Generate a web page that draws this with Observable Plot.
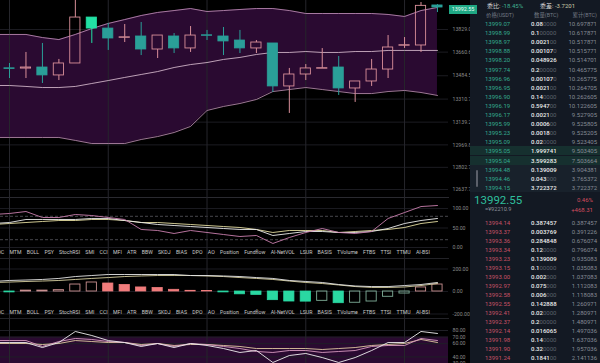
<!DOCTYPE html>
<html><head><meta charset="utf-8">
<script src="https://cdn.jsdelivr.net/npm/d3@7"></script>
<script src="https://cdn.jsdelivr.net/npm/@observablehq/plot@0.6"></script>
<style>
html,body{margin:0;padding:0;background:#000;}
body{width:600px;height:363px;overflow:hidden;position:relative;font-family:Roboto,"Noto Sans CJK SC",sans-serif;}
.pnl{position:absolute;left:0;width:470px;}
.pnl svg{display:block;}
.tabs{position:absolute;left:-6px;width:436px;height:8px;display:flex;justify-content:space-between;font-size:5.2px;line-height:8px;color:#c9c9c9;white-space:nowrap;}
#badge{position:absolute;left:449px;width:28px;height:9px;line-height:9px;background:#1fa884;color:#eafff6;font-size:5.4px;text-align:center;}
#book{position:absolute;left:470px;top:0;width:130px;height:363px;background:#131923;overflow:hidden;color:#ccc;font-size:6px;}
#book .row{position:absolute;left:0;width:130px;height:9px;line-height:9px;white-space:nowrap;}
#book .p{position:absolute;left:15px;}
#book .q{position:absolute;left:61px;color:#ececec;font-weight:500;}
#book .q i{font-style:normal;color:#5d626c;font-weight:400;}
#book .c{position:absolute;right:3px;color:#868b95;}
#asks{position:absolute;left:0;top:21px;width:130px;height:171px;overflow:hidden;}
#bids{position:absolute;left:0;top:218px;width:130px;height:145px;overflow:hidden;}
#handle{position:absolute;left:476px;top:170px;width:2px;height:17px;background:#5b606a;border-radius:1px;}
</style></head><body>
<div id="pA" class="pnl" style="top:0"></div>
<div id="pB" class="pnl" style="top:197px"></div>
<div id="pC" class="pnl" style="top:258px"></div>
<div id="pD" class="pnl" style="top:318px"></div>
<div class="tabs" id="tabs1" style="top:248px"></div>
<div class="tabs" id="tabs2" style="top:308px"></div>
<div id="book">
  <div class="row" style="top:1px"><span style="position:absolute;left:17px;color:#d6d6d6">委比: <span style="color:#3fae92">-18.45%</span></span><span style="position:absolute;left:70px;color:#d6d6d6">委差: <span style="color:#c9c9a8">-3.7201</span></span></div>
  <div class="row" style="top:11px;font-size:5.4px;color:#737985"><span style="position:absolute;left:16px">价格(USDT)</span><span style="position:absolute;left:64px">数量(BTC)</span><span style="position:absolute;right:3px">累计(BTC)</span></div>
  <div id="asks"></div>
  <div class="row" style="top:194px;height:12px;line-height:12px;"><span style="position:absolute;left:4px;font-size:11.5px;color:#2fbf9c">13992.55</span><span style="position:absolute;right:7px;color:#d24d5e">0.46%</span></div>
  <div class="row" style="top:205px"><span style="position:absolute;left:15px;color:#8b909a;font-size:5.6px">≈¥92210.9</span><span style="position:absolute;right:7px;color:#d24d5e">+468.31</span></div>
  <div id="bids"></div>
</div>
<div id="badge"></div>
<div id="handle"></div>
<script>
// ---------- data ----------
const candleIndex = [0,1,2,3,4,5,6,7,8,9,10,11,12,13,14,15,16,17,18,19,20,21,22,23,24,25,26];
const open  = [13540,13538,13546,13487,13576,13918,13836,13767,13777,13680,13777,13688,13786,13777,13747,13688,13725,13405,13494,13537,13546,13390,13442,13531,13708,13710,14008];
const high  = [13576,13658,13725,13606,14060,13918,13874,13866,13881,13784,13799,13851,13822,13844,13822,13747,13725,13539,13568,13687,13628,13442,13606,13784,13769,14030,14015];
const low   = [13464,13464,13427,13449,13576,13725,13673,13732,13635,13613,13650,13658,13747,13635,13650,13650,13360,13204,13449,13537,13338,13286,13405,13464,13688,13658,13955];
const close = [13535,13546,13487,13576,13918,13836,13762,13771,13680,13784,13688,13784,13782,13740,13688,13732,13405,13494,13539,13541,13390,13442,13531,13695,13712,14005,13992.55];
const highlightCandle = 5;

const lineIndex = [-1,0,1,2,3,4,5,6,7,8,9,10,11,12,13,14,15,16,17,18,19,20,21,22,23,24,25,26];
const bollUpper = [13792,13792,13792,13769,13754,13792,13836,13874,13903,13933,13956,13970,13985,13963,13970,13978,13985,13985,13970,13948,13948,13948,13948,13948,13941,13926,13970,13993];
const bollMid   = [13412,13412,13405,13397,13397,13405,13427,13449,13472,13494,13516,13546,13568,13583,13606,13621,13643,13658,13658,13665,13658,13658,13665,13665,13673,13673,13673,13673];
const bollLower = [13025,13025,13025,13025,13025,13003,12980,12980,12980,13010,13032,13062,13107,13226,13256,13278,13308,13367,13382,13397,13382,13367,13352,13352,13367,13375,13360,13338];

const ind1Pink   = [84.6,87.2,92.3,76.9,76.9,84.6,82,76.9,71.8,46.2,43.6,35.9,43.6,38.5,33.3,28.2,30.8,10.3,25.6,38.5,48.7,38.5,35.9,41,74.4,89.7,105,107.7];
const ind1White  = [61.5,64.1,71.8,71.8,71.8,71.8,74.4,74.4,69.2,64.1,59,56.4,53.8,51.3,48.7,46.2,46.2,30.8,35.9,41,41,38.5,38.5,41,48.7,61.5,69.2,74.4];
const ind1Yellow = [59,61.5,64.1,66.7,69.2,69.2,71.8,71.8,69.2,64.1,64.1,61.5,59,56.4,53.8,51.3,46.2,38.5,43.6,43.6,43.6,38.5,41,43.6,46.2,51.3,61.5,66.7];

const macdHist = [-8,8,8,12,62,80,71,58,36,31,15,6,5,-8,-25,-30,-77,-89,-90,-83,-104,-100,-89,-47,-18,36,62];
const macdDif  = [89,98,102,107,116,133,142,151,151,151,151,151,142,142,138,133,124,116,98,89,80,62,49,44,44,53,62,80];
const macdDea  = [80,84,89,93,98,107,116,124,133,138,142,142,142,138,133,124,116,107,93,80,71,58,44,36,36,40,53,71];

const rsiWhite  = [61.8,61.8,61.8,54.2,61.8,78.5,72.4,64.8,61.8,55.8,60.3,54.2,60.3,57.3,52.7,46.7,49.7,31.5,42.1,45.2,39,31.5,39,49.7,61.8,61.8,78.5,75.5];
const rsiPink   = [64.8,64.8,64.8,55.8,63.3,67.9,66.4,63.3,61.8,57.3,60.3,55.8,60.3,58.8,55.8,52.7,48.2,46.7,49.7,49.7,46.7,48.2,49.7,55.8,57.3,57.3,67.9,64.8];
const rsiYellow = [60.3,60.3,60.3,58.8,60.3,64.8,63.3,61.8,61.8,58.8,60.3,57.3,58.8,58.8,57.3,55.8,52.7,52.7,52.7,52.7,51.2,52.7,54.2,57.3,58.8,60.3,66.4,61.8];
const rsiBand = [30, 70];

const priceTicks = [13829.00,13660.63,13484.57,13310.77,13139.22,12969.87,12802.71,12637.71];
const ind1Ticks = [100,50,0];
const ind1Dashed = [80,20];
const macdTicks = [200,0,-200];
const rsiTicks = [80,70,60,40,30];
const gridIndex = [0,6,12,18,24];

const tabLabels = ["ROC","MTM","BOLL","PSY","StochRSI","SMI","CCI","MFI","ATR","BBW","SKDJ","BIAS","DPO","AO","Position","Fundflow","AI-NetVOL","LSUR","BASIS","TVolume","FTBS","TTSI","TTMU","AI-BSI"];

const askPrice = ["13999.07","13998.99","13998.97","13998.88","13998.20","13997.74","13996.96","13996.95","13996.90","13996.19","13996.17","13995.99","13995.23","13995.09","13995.05","13995.04","13994.48","13994.46","13994.15"];
const askQty   = ["0.080000","0.100000","0.002100","0.001070","0.048926","0.200000","0.001070","0.002100","0.140000","0.594700","0.002100","0.000600","0.001800","0.020000","1.999741","3.599283","0.139009","0.043000","3.722372"];
const askCum   = ["10.697871","10.617871","10.517871","10.515771","10.514701","10.465775","10.265775","10.264705","10.262605","10.122605","9.527905","9.525805","9.525205","9.523405","9.503405","7.503664","3.904381","3.765372","3.722372"];
const bidPrice = ["13994.14","13993.37","13993.36","13993.34","13993.23","13993.15","13993.00","13992.97","13992.58","13992.55","13992.41","13992.37","13992.14","13991.98","13991.90","13991.24"];
const bidQty   = ["0.387457","0.003769","0.284848","0.120000","0.139009","0.100000","0.002000","0.075000","0.006000","0.142888","0.020000","0.200000","0.016065","0.140000","0.320000","0.184100"];
const bidCum   = ["0.387457","0.391226","0.676074","0.796074","0.935083","1.035083","1.037083","1.112083","1.118083","1.260971","1.280971","1.480971","1.497036","1.637036","1.957036","2.141136"];
const lastPrice = 13992.55;

// ---------- tables ----------
const candles = candleIndex.map((i,k)=>({i, o:open[k], h:high[k], l:low[k], c:close[k], hi:i===highlightCandle}));
const lines = lineIndex.map((i,k)=>({i, up:bollUpper[k], mid:bollMid[k], lo:bollLower[k],
  p1:ind1Pink[k], w1:ind1White[k], y1:ind1Yellow[k], dif:macdDif[k], dea:macdDea[k],
  rw:rsiWhite[k], rp:rsiPink[k], ry:rsiYellow[k]}));
const hist = candleIndex.map((i,k)=>{
  const v = macdHist[k], prev = k>0 ? macdHist[k-1] : v;
  const hollow = v >= 0 ? v >= prev : v > prev;
  return {i, v, pos: v>=0, hollow};
});

const UP="#d98f99", DOWN="#2a9f98", DOWN_HI="#22e0a4";
const W=470, MR=22;
const xDomain=[-0.547, 26.67];
const base = {width:W, marginLeft:0, marginRight:MR, marginTop:0, marginBottom:0,
  style:{background:"transparent", color:"#8a8a8a", fontFamily:"Roboto, sans-serif", fontSize:"5.2px", overflow:"visible"},
  x:{domain:xDomain, axis:null}};
const vgrid = Plot.ruleX(gridIndex, {stroke:"#26262c", strokeWidth:1});
const fmt = d=>d.toFixed(2);
const rightAxis = t => Plot.axisY(t, {anchor:"right", tickSize:0, tickPadding:4, tickFormat:fmt, fontSize:5.2});

const ups = candles.filter(d=>d.c>=d.o), downs = candles.filter(d=>d.c<d.o);
const ccol = d => d.c>=d.o ? UP : (d.hi ? DOWN_HI : DOWN);

const plotA = Plot.plot({...base, height:197,
  y:{domain:[12578.1, 14044.9]},
  marks:[
    Plot.ruleY(priceTicks, {stroke:"#1c1c22"}),
    Plot.areaY(lines, {x:"i", y1:"lo", y2:"up", fill:"#2a0a31", clip:true}),
    vgrid,
    Plot.lineY(lines, {x:"i", y:"up", stroke:"#c796bd", strokeWidth:0.8, clip:true}),
    Plot.lineY(lines, {x:"i", y:"lo", stroke:"#c796bd", strokeWidth:0.8, clip:true}),
    Plot.lineY(lines, {x:"i", y:"mid", stroke:"#e2c6d8", strokeWidth:0.8, clip:true}),
    Plot.ruleX(candles, {x:"i", y1:"h", y2:d=>Math.max(d.o,d.c), stroke:ccol, strokeWidth:1, clip:true}),
    Plot.ruleX(candles, {x:"i", y1:d=>Math.min(d.o,d.c), y2:"l", stroke:ccol, strokeWidth:1, clip:true}),
    Plot.rect(downs, {x1:d=>d.i-0.31, x2:d=>d.i+0.31, y1:"o", y2:"c", fill:ccol, stroke:ccol, strokeWidth:0.8}),
    Plot.rect(ups, {x1:d=>d.i-0.31, x2:d=>d.i+0.31, y1:"o", y2:"c", fill:"none", stroke:UP, strokeWidth:0.9}),
    rightAxis(priceTicks)
  ]});
document.getElementById("pA").append(plotA);

const plotB = Plot.plot({...base, height:61,
  y:{domain:[-28.2, 128.2]},
  marks:[
    Plot.frame({anchor:"top", stroke:"#2a2a30"}),
    Plot.ruleY(ind1Ticks, {stroke:"#1b1b21"}),
    Plot.ruleY(ind1Dashed, {stroke:"#46464c", strokeDasharray:"3,2"}),
    vgrid,
    Plot.lineY(lines, {x:"i", y:"y1", stroke:"#e4dca0", strokeWidth:0.9, clip:true}),
    Plot.lineY(lines, {x:"i", y:"w1", stroke:"#ededed", strokeWidth:0.9, clip:true}),
    Plot.lineY(lines, {x:"i", y:"p1", stroke:"#c97fae", strokeWidth:0.9, clip:true}),
    rightAxis(ind1Ticks)
  ]});
document.getElementById("pB").append(plotB);

const plotC = Plot.plot({...base, height:60,
  y:{domain:[-240, 293.3]},
  marks:[
    Plot.frame({anchor:"top", stroke:"#222227"}),
    Plot.ruleY(macdTicks, {stroke:"#1b1b21"}),
    vgrid,
    Plot.rect(hist.filter(d=>!d.hollow), {x1:d=>d.i-0.31, x2:d=>d.i+0.31, y1:0, y2:"v",
      fill:d=>d.pos?"#f07c7c":"#2ad8a2", stroke:d=>d.pos?"#f07c7c":"#2ad8a2", strokeWidth:0.8}),
    Plot.rect(hist.filter(d=>d.hollow), {x1:d=>d.i-0.31, x2:d=>d.i+0.31, y1:0, y2:"v",
      fill:"none", stroke:d=>d.pos?"#c99090":"#7fae98", strokeWidth:0.9}),
    Plot.lineY(lines, {x:"i", y:"dea", stroke:"#d8d0a0", strokeWidth:0.9, clip:true}),
    Plot.lineY(lines, {x:"i", y:"dif", stroke:"#e6e6e6", strokeWidth:0.9, clip:true}),
    rightAxis(macdTicks)
  ]});
document.getElementById("pC").append(plotC);

const plotD = Plot.plot({...base, height:45,
  y:{domain:[30, 98.2]},
  marks:[
    Plot.frame({anchor:"top", stroke:"#222227"}),
    Plot.rect([rsiBand], {y1:d=>d[0], y2:d=>d[1], fill:"#2a0a31"}),
    Plot.ruleY(rsiTicks, {stroke:"#1f1f26"}),
    vgrid,
    Plot.lineY(lines, {x:"i", y:"ry", stroke:"#e0c8a0", strokeWidth:0.9, clip:true}),
    Plot.lineY(lines, {x:"i", y:"rp", stroke:"#d89ac0", strokeWidth:0.9, clip:true}),
    Plot.lineY(lines, {x:"i", y:"rw", stroke:"#eeeeee", strokeWidth:0.9, clip:true}),
    rightAxis(rsiTicks)
  ]});
document.getElementById("pD").append(plotD);

// tabs
for (const id of ["tabs1","tabs2"]) {
  const el = document.getElementById(id);
  tabLabels.forEach(t=>{const s=document.createElement("span"); s.textContent=t; el.append(s);});
}

// badge
const badge = document.getElementById("badge");
badge.textContent = lastPrice.toFixed(2);
badge.style.top = (plotA.scale("y").apply(lastPrice) - 4.5 + 2) + "px";

// order book
function qtyHTML(q){
  const m = q.match(/^(.*?)(0*)$/);
  let main = m[1], tail = m[2];
  return main + (tail ? "<i>"+tail+"</i>" : "");
}
function fillRows(el, prices, qty, cum, color, top0, step, bgFn){
  prices.forEach((p,k)=>{
    const r = document.createElement("div");
    r.className="row";
    r.style.top = (top0 + k*step) + "px";
    const bg = bgFn ? bgFn(p) : null;
    if (bg) r.style.background = bg;
    r.innerHTML = `<span class="p" style="color:${color}">${p}</span><span class="q">${qtyHTML(qty[k])}</span><span class="c">${cum[k]}</span>`;
    el.append(r);
  });
}
fillRows(document.getElementById("asks"), askPrice, askQty, askCum, "#33a98e", -2, 9.1,
  p => (p==="13995.05"||p==="13995.04") ? "#16302f" : (["13994.48","13994.46","13994.15"].includes(p) ? "#18212b" : null));
fillRows(document.getElementById("bids"), bidPrice, bidQty, bidCum, "#c65266", 0, 9.0, null);
</script>
</body></html>
